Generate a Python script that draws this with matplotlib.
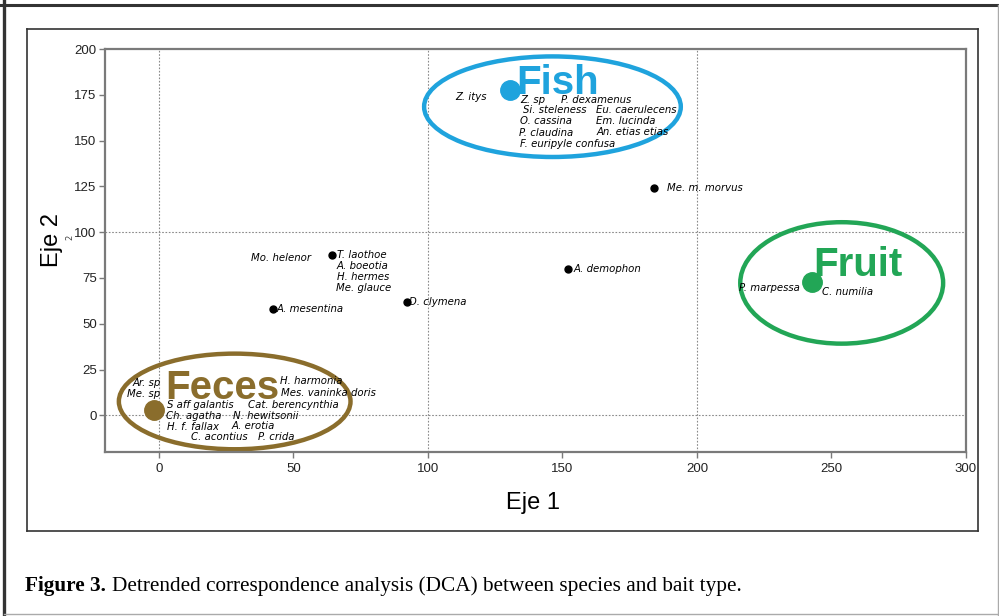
import matplotlib.pyplot as plt
from matplotlib.patches import Ellipse
from matplotlib.lines import Line2D

# Grupos por tipo de cebo (centroides)
group_names = ['Fish', 'Fruit', 'Feces']
group_x = [130.7, 242.8, -1.9]
group_y = [177.7, 72.8, 2.7]
group_colors = ['#1fa3dd', '#22a656', '#8a6d2c']

# especies con punto propio
point_species = ['Me. m. morvus', 'A. demophon', 'T. laothoe', 'A. mesentina', 'D. clymena']
point_x = [184.2, 152.2, 64.2, 42.3, 92.1]
point_y = [123.9, 79.9, 87.5, 58.2, 62.0]

# especies agrupadas (solo etiqueta)
label_species = ['Z. itys', 'Z. sp', 'P. dexamenus', 'Si. steleness', 'Eu. caerulecens',
                 'O. cassina', 'Em. lucinda', 'P. claudina', 'An. etias etias',
                 'F. euripyle confusa',
                 'Mo. helenor', 'A. boeotia', 'H. hermes', 'Me. glauce',
                 'P. marpessa', 'C. numilia',
                 'Ar. sp', 'Me. sp', 'H. harmonia', 'Mes. vaninka doris',
                 'S aff galantis', 'Cat. berencynthia', 'Ch. agatha', 'N. hewitsonii',
                 'H. f. fallax', 'A. erotia', 'C. acontius', 'P. crida']
label_x = [110.3, 134.4, 149.3, 135.2, 162.6,
           134.4, 162.6, 133.7, 162.6,
           134.1,
           34.2, 66.1, 66.1, 65.7,
           215.7, 246.6,
           -9.7, -11.9, 44.9, 45.3,
           3.0, 33.0, 2.6, 27.5,
           3.0, 27.1, 11.9, 36.8]
label_y = [173.9, 172.3, 172.3, 166.8, 166.8,
           160.9, 160.9, 154.3, 154.9,
           148.4,
           85.9, 81.5, 75.5, 69.6,
           69.6, 67.4,
           17.4, 11.4, 19.0, 12.0,
           5.4, 5.4, -0.5, -0.5,
           -6.5, -6.0, -12.0, -12.0]

# elipses de cada grupo (centro, ancho, alto en unidades de los ejes)
ell_cx = [146.3, 253.8, 28.2]
ell_cy = [168.5, 72.3, 7.6]
ell_w = [95.4, 75.4, 86.1]
ell_h = [54.9, 66.3, 52.2]
# posicion (linea base) del texto grande del grupo
title_x = [133.0, 243.3, 2.4]
title_y = [175.2, 76.3, 9.2]

x_ticks = [0, 50, 100, 150, 200, 250, 300]
y_ticks = [0, 25, 50, 75, 100, 125, 150, 175, 200]

species_font = ['DejaVu Sans']
sans = ['Liberation Sans', 'DejaVu Sans']

fig = plt.figure(figsize=(9.99, 6.16), dpi=100)
W, H = 999.0, 616.0

# marcos exteriores
def fline(x0, y0, x1, y1, **kw):
    fig.add_artist(Line2D([x0 / W, x1 / W], [1 - y0 / H, 1 - y1 / H],
                          transform=fig.transFigure, **kw))

fline(4, 0, 4, 616, color='#333333', lw=2.4)
fline(0, 5, 999, 5, color='#333333', lw=2.2)
fline(998, 5, 998, 616, color='#aaaaaa', lw=1.0)
fline(4, 614, 999, 614, color='#aaaaaa', lw=1.0)
fline(27, 29, 978, 29, color='#333333', lw=1.2)
fline(27, 531, 978, 531, color='#333333', lw=1.2)
fline(27, 29, 27, 531, color='#333333', lw=1.2)
fline(978, 29, 978, 531, color='#333333', lw=1.2)

ax = fig.add_axes([105 / W, 1 - 452 / H, 861 / W, 403 / H])
ax.set_xlim(-20, 300)
ax.set_ylim(-20, 200)

for s in ax.spines.values():
    s.set_color('#7a7a7a')
    s.set_linewidth(1.6)

ax.set_xticks(x_ticks)
ax.set_yticks(y_ticks)
ax.tick_params(direction='out', length=4, width=1.0, color='#7a7a7a',
               labelsize=9.5, labelcolor='#222222', pad=2)
ax.tick_params(axis='x', pad=4)
for lab in ax.get_xticklabels() + ax.get_yticklabels():
    lab.set_family(sans)

# lineas de referencia punteadas
for gx in [0, 100, 200]:
    ax.axvline(gx, color='#8a8a8a', lw=0.8, ls=(0, (1.5, 1.5)), zorder=0)
for gy in [0, 100]:
    ax.axhline(gy, color='#8a8a8a', lw=0.8, ls=(0, (1.5, 1.5)), zorder=0)

# elipses y centroides
for i in range(len(group_names)):
    ax.add_patch(Ellipse((ell_cx[i], ell_cy[i]), ell_w[i], ell_h[i], fill=False,
                         edgecolor=group_colors[i], lw=3.2, zorder=2))
    ax.plot(group_x[i], group_y[i], 'o', color=group_colors[i], ms=14, zorder=3)
    ax.text(title_x[i], title_y[i], group_names[i], color=group_colors[i],
            fontsize=29, fontweight='bold', family=sans,
            ha='left', va='baseline', zorder=4)

# especies con punto
point_dx = [9, 4, 4, 3, 2]
ax.plot(point_x, point_y, 'o', color='black', ms=5, zorder=3)
for i, name in enumerate(point_species):
    ax.annotate(name, (point_x[i], point_y[i]), xytext=(point_dx[i], 0),
                textcoords='offset points', ha='left', va='center',
                fontsize=7.3, style='italic', family=species_font, zorder=4)

for name, x, y in zip(label_species, label_x, label_y):
    ax.text(x, y, name, ha='left', va='center', fontsize=7.3, style='italic',
            family=species_font, zorder=4)

# titulos de ejes
fig.text(533 / W, 1 - 503 / H, 'Eje 1', ha='center', va='center', fontsize=17,
         family=sans)
fig.text(52 / W, 1 - 240 / H, 'Eje 2', ha='center', va='center', fontsize=17,
         rotation=90, family=sans)
fig.text(70 / W, 1 - 237 / H, '2', ha='center', va='center', fontsize=6,
         rotation=90, color='#444444')

# leyenda de la figura
fig.text(25 / W, 1 - 586 / H, 'Figure 3.', ha='left', va='center', fontsize=15.3,
         family='Liberation Serif', fontweight='bold')
fig.text(112 / W, 1 - 586 / H,
         'Detrended correspondence analysis (DCA) between species and bait type.',
         ha='left', va='center', fontsize=15.3, family='Liberation Serif')

fig.savefig('out.png', dpi=100)
